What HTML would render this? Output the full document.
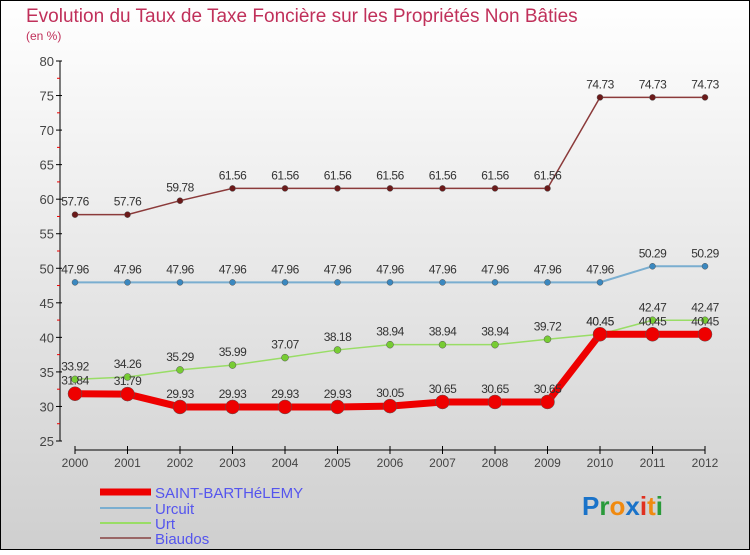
<!DOCTYPE html>
<html><head><meta charset="utf-8"><style>
body{margin:0;width:750px;height:550px;overflow:hidden;font-family:"Liberation Sans",sans-serif}
</style></head><body>
<svg width="750" height="550" xmlns="http://www.w3.org/2000/svg" id="svg">
<defs><linearGradient id="bg" x1="0" y1="0" x2="0" y2="1"><stop offset="0" stop-color="#ffffff"/><stop offset="1" stop-color="#cfcfcf"/></linearGradient></defs>
<rect x="0.5" y="0.5" width="749" height="549" fill="url(#bg)" stroke="#000"/>
<text x="26" y="22" font-size="19" fill="#c0305a">Evolution du Taux de Taxe Foncière sur les Propriétés Non Bâties</text>
<text x="26" y="40" font-size="12" fill="#c0305a">(en %)</text>
<g id="axes"></g><g id="series"></g>
<g font-size="15" fill="#5555ee">
<line x1="100" y1="492" x2="151" y2="492" stroke="#ee0000" stroke-width="7"/><text x="155" y="498" fill="#5555ee">SAINT-BARTHéLEMY</text>
<line x1="100" y1="508" x2="151" y2="508" stroke="#7aaed0" stroke-width="2"/><text x="155" y="514" fill="#5555ee">Urcuit</text>
<line x1="100" y1="523" x2="151" y2="523" stroke="#99dd66" stroke-width="2"/><text x="155" y="529" fill="#5555ee">Urt</text>
<line x1="100" y1="538" x2="151" y2="538" stroke="#996666" stroke-width="2"/><text x="155" y="544" fill="#5555ee">Biaudos</text>
</g>
<text x="582" y="515" font-size="26" font-weight="bold"><tspan fill="#1a73c9">P</tspan><tspan fill="#2a9a3a">r</tspan><tspan fill="#f08a10">o</tspan><tspan fill="#1a73c9">x</tspan><tspan fill="#e03020">i</tspan><tspan fill="#f08a10">t</tspan><tspan fill="#2a9a3a">i</tspan></text>
</svg>
<script>
const years=[2000,2001,2002,2003,2004,2005,2006,2007,2008,2009,2010,2011,2012];
const yTicks=[25,30,35,40,45,50,55,60,65,70,75,80];
const sb=[31.84,31.79,29.93,29.93,29.93,29.93,30.05,30.65,30.65,30.65,40.45,40.45,40.45];
const urcuit=[47.96,47.96,47.96,47.96,47.96,47.96,47.96,47.96,47.96,47.96,47.96,50.29,50.29];
const urt=[33.92,34.26,35.29,35.99,37.07,38.18,38.94,38.94,38.94,39.72,40.45,42.47,42.47];
const biaudos=[57.76,57.76,59.78,61.56,61.56,61.56,61.56,61.56,61.56,61.56,74.73,74.73,74.73];
const NS="http://www.w3.org/2000/svg";
const X=i=>75+i*52.5, Y=v=>441-(v-25)*380/55;
function mk(t,a,p){const e=document.createElementNS(NS,t);for(const k in a)e.setAttribute(k,a[k]);p.appendChild(e);return e;}
const ax=document.getElementById('axes');
let l=mk('line',{x1:60,y1:61,x2:60,y2:441,stroke:'#000'},ax);

yTicks.forEach(v=>{mk('line',{x1:56,y1:Y(v),x2:62,y2:Y(v),stroke:'#000'},ax);
 if(v<80)mk('line',{x1:57,y1:Y(v+2.5),x2:60,y2:Y(v+2.5),stroke:'#e00'},ax);
 const t=mk('text',{x:54,y:Y(v)+5,'font-size':13,fill:'#444','text-anchor':'end'},ax);t.textContent=v;
 });
l=mk('line',{x1:75,y1:450,x2:705,y2:450,stroke:'#000'},ax);

years.forEach((y,i)=>{mk('line',{x1:X(i),y1:446,x2:X(i),y2:454,stroke:'#000'},ax);
 const t=mk('text',{x:X(i),y:467,'font-size':12,fill:'#444','text-anchor':'middle'},ax);t.textContent=y;
 });
const sg=document.getElementById('series');
function series(name,d,col,w,r,fill){
 const g=mk('g',{},sg);
 const p=mk('polyline',{points:d.map((v,i)=>X(i)+','+Y(v)).join(' '),fill:'none',stroke:col,'stroke-width':w},g);
 
 d.forEach((v,i)=>{const c=mk('circle',{cx:X(i),cy:Y(v),r:r,fill:fill,stroke:'#555','stroke-width':0.5},g);
  
  const t=mk('text',{x:X(i),y:Y(v)-9,'font-size':12,fill:'#333','text-anchor':'middle','letter-spacing':'-0.5'},g);t.textContent=v;
  });
}
series('biaudos',biaudos,'#8b3a3a',1.5,3,'#6b1a1a');
series('urcuit',urcuit,'#7aaed0',2,3,'#3a88c0');
series('urt',urt,'#99dd66',1.5,3.5,'#77cc33');
series('saint-barthelemy',sb,'#ee0000',7,7,'#ee0000');
</script>
</body></html>
